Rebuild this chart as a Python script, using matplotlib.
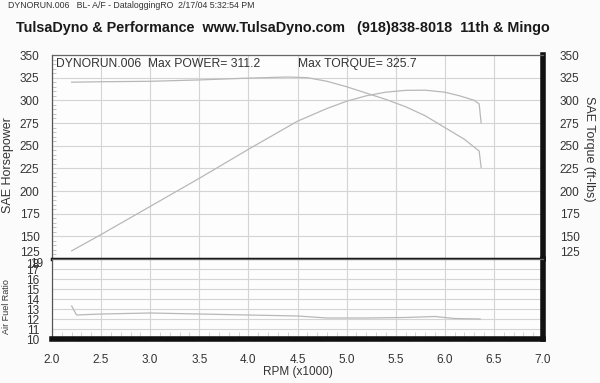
# -*- coding: UTF-8 -*-

import matplotlib
matplotlib.use('Agg')
import matplotlib.pyplot as plt
from matplotlib.ticker import MultipleLocator

plt.rcParams['font.family'] = ['Liberation Sans', 'DejaVu Sans']

# =========================
# data
# =========================

rpm_pwr = [2.2, 2.5, 3.0, 3.5, 4.0, 4.5, 4.8, 5.0, 5.2, 5.4, 5.6, 5.8, 6.0, 6.15, 6.3, 6.35, 6.37]
power = [134, 152, 183, 214, 246, 277, 291, 299, 305, 309, 311, 311.2, 309, 305, 300, 296, 275]

rpm_trq = [2.2, 2.5, 3.0, 3.5, 4.0, 4.4, 4.6, 4.8, 5.0, 5.2, 5.4, 5.6, 5.8, 6.0, 6.2, 6.35, 6.37]
torque = [320, 320.5, 321, 322.5, 324.5, 325.7, 325, 321, 315, 308, 301, 293, 283, 270, 257, 244, 226]

rpm_afr = [2.2, 2.25, 2.5, 3.0, 3.5, 4.0, 4.5, 4.8, 5.2, 5.6, 5.9, 6.1, 6.36]
afr = [13.3, 12.4, 12.5, 12.6, 12.5, 12.4, 12.3, 12.1, 12.1, 12.15, 12.25, 12.05, 12.0]

pwr_ticks = [125, 150, 175, 200, 225, 250, 275, 300, 325, 350]
afr_ticks = [10, 11, 12, 13, 14, 15, 16, 17, 18]
rpm_ticks = [2.0, 2.5, 3.0, 3.5, 4.0, 4.5, 5.0, 5.5, 6.0, 6.5, 7.0]

# =========================
# plot
# =========================

W, H = 600, 383
fig = plt.figure(figsize=(6.0, 3.83), dpi=100)
fig.patch.set_facecolor('#fbfbfb')

ax1 = fig.add_axes([52 / W, 124 / H, 491 / W, 204 / H])
ax2 = fig.add_axes([52 / W, 44 / H, 491 / W, 80 / H], sharex=ax1)

grid_c = '#d4d4d4'
line_c = '#b8b8b8'
txt_c = '#333333'

for ax in (ax1, ax2):
    ax.set_facecolor('#fdfdfd')
    ax.set_xlim(2.0, 7.0)
    ax.set_xticks(rpm_ticks)
    ax.xaxis.set_minor_locator(MultipleLocator(0.1))
    ax.grid(True, which='major', color=grid_c, lw=0.8)
    ax.spines['left'].set_color('#555555')
    ax.spines['left'].set_linewidth(0.9)
    ax.spines['top'].set_color('#666666')
    ax.spines['top'].set_linewidth(0.9)
    ax.spines['right'].set_color('#111111')
    ax.spines['right'].set_linewidth(4)
    ax.tick_params(axis='y', which='major', length=0, pad=9, labelsize=8.5, labelcolor=txt_c)
    ax.tick_params(axis='y', which='minor', direction='in', length=3, color='#bbbbbb')

# upper: power & torque
ax1.plot(rpm_pwr, power, color=line_c, lw=0.9)
ax1.plot(rpm_trq, torque, color=line_c, lw=0.9)
ax1.set_ylim(125, 350)
ax1.set_yticks(pwr_ticks)
ax1.yaxis.set_minor_locator(MultipleLocator(5))
ax1.spines['bottom'].set_color('#111111')
ax1.spines['bottom'].set_linewidth(2.5)
ax1.tick_params(axis='x', which='both', length=0, labelbottom=False)
ax1.set_ylabel('SAE Horsepower', fontsize=9, color=txt_c)
ax1.yaxis.set_label_coords(-0.077, 0.46)
ax1.get_yticklabels()[0].set_va('bottom')

ax1r = ax1.twinx()
ax1r.set_ylim(125, 350)
ax1r.set_yticks(pwr_ticks)
ax1r.tick_params(axis='y', length=0, pad=12, labelsize=8.5, labelcolor=txt_c)
ax1r.get_yticklabels()[0].set_va('bottom')
for s in ax1r.spines.values():
    s.set_visible(False)
ax1r.set_ylabel('SAE Torque (ft-lbs)', fontsize=9, color=txt_c, rotation=-90, va='center')
ax1r.yaxis.set_label_coords(1.093, 0.54)

ax1.text(0.008, 0.985, 'DYNORUN.006  Max POWER= 311.2', transform=ax1.transAxes,
         fontsize=8.7, color=txt_c, va='top', ha='left')
ax1.text(0.50, 0.985, 'Max TORQUE= 325.7', transform=ax1.transAxes,
         fontsize=8.7, color=txt_c, va='top', ha='left')

# lower: air fuel ratio
ax2.plot(rpm_afr, afr, color=line_c, lw=0.9)
ax2.set_ylim(10, 18)
ax2.set_yticks(afr_ticks)
ax2.get_yticklabels()[-1].set_va('top')
ax2.annotate('19', xy=(0, 18), xycoords=('axes fraction', 'data'), xytext=(-6.5, 1),
             textcoords='offset points', ha='right', va='top', fontsize=8.5, color=txt_c)
ax2.spines['bottom'].set_color('#111111')
ax2.spines['bottom'].set_linewidth(4)
ax2.tick_params(axis='x', which='major', length=0, pad=11, labelsize=8.5, labelcolor=txt_c)
ax2.tick_params(axis='x', which='minor', direction='in', length=5, color='#cccccc')
ax2.set_xticklabels(['%.1f' % t for t in rpm_ticks])
ax2.set_xlabel('RPM (x1000)', fontsize=8.5, color=txt_c, labelpad=0)
ax2.set_ylabel('Air Fuel Ratio', fontsize=6.5, color=txt_c)
ax2.yaxis.set_label_coords(-0.084, 0.41)

# header
fig.text(8 / W, 1 - 6 / H, 'DYNORUN.006   BL- A/F - DataloggingRO  2/17/04 5:32:54 PM',
         fontsize=6.3, color=txt_c, va='center', ha='left')
fig.text(16 / W, 1 - 28 / H,
         'TulsaDyno & Performance  www.TulsaDyno.com   (918)838-8018  11th & Mingo',
         fontsize=10.4, fontweight='bold', color='#1a1a1a', va='center', ha='left')

fig.savefig('out.png', dpi=100, facecolor=fig.get_facecolor())
plt.close('all')
